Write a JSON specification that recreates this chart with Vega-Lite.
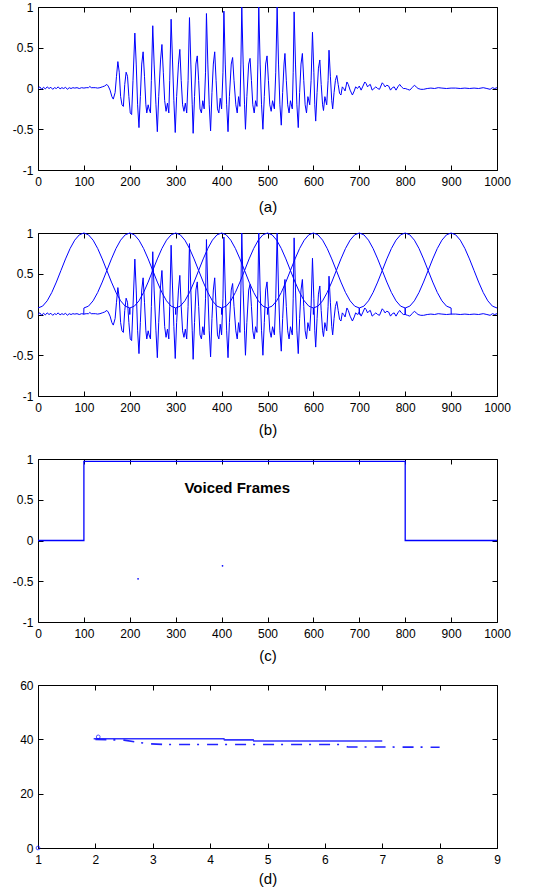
{
  "$schema": "https://vega.github.io/schema/vega-lite/v6.json",
  "background": "white",
  "padding": {"left": 11, "top": 0, "right": 10, "bottom": 2},
  "spacing": 63,
  "bounds": "flush",
  "config": {
    "view": {"stroke": "black", "strokeWidth": 1},
    "axis": {"grid": false, "domain": false, "tickSize": -5, "tickColor": "black", "labelFont": "Liberation Sans", "labelFontSize": 12, "labelColor": "black", "titleFont": "Liberation Sans", "titleFontSize": 15, "titleFontWeight": "normal", "titleColor": "black", "labelFlush": false, "labelOverlap": false}
  },
  "datasets": {
    "wave": [
      {"x":0,"y":0.0},{"x":4,"y":0.02},{"x":8,"y":-0.01},{"x":12,"y":0.015},{"x":16,"y":-0.005},{"x":20,"y":0.02},{"x":24,"y":0.0},{"x":28,"y":0.015},{"x":32,"y":-0.01},{"x":36,"y":0.01},{"x":40,"y":0.0},{"x":44,"y":0.02},{"x":48,"y":-0.005},{"x":52,"y":0.01},{"x":56,"y":0.0},{"x":60,"y":0.015},{"x":64,"y":-0.01},{"x":68,"y":0.01},{"x":72,"y":0.0},{"x":76,"y":0.01},{"x":80,"y":0.005},{"x":85,"y":0.01},{"x":90,"y":0.0},{"x":95,"y":0.01},{"x":100,"y":0.005},{"x":105,"y":0.01},{"x":110,"y":0.01},{"x":113,"y":0.025},{"x":116,"y":0.01},{"x":120,"y":0.01},{"x":125,"y":0.01},{"x":130,"y":0.005},{"x":135,"y":0.01},{"x":140,"y":0.02},{"x":145,"y":0.03},{"x":150,"y":0.05},{"x":153,"y":0.03},{"x":157,"y":-0.02},{"x":161,"y":-0.1},{"x":164,"y":-0.13},{"x":168,"y":-0.05},{"x":171,"y":0.15},{"x":174,"y":0.33},{"x":177,"y":0.2},{"x":180,"y":-0.1},{"x":183,"y":-0.2},{"x":186,"y":-0.22},{"x":189,"y":0.05},{"x":192,"y":0.2},{"x":195,"y":0.15},{"x":198,"y":-0.1},{"x":201,"y":-0.3},{"x":204,"y":-0.32},{"x":207,"y":0.1},{"x":211,"y":0.68},{"x":214,"y":0.3},{"x":217,"y":-0.2},{"x":220,"y":-0.48},{"x":223,"y":-0.1},{"x":226,"y":0.3},{"x":229,"y":0.45},{"x":232,"y":0.15},{"x":235,"y":-0.2},{"x":237,"y":-0.3},{"x":240,"y":-0.2},{"x":242,"y":-0.25},{"x":245,"y":-0.3},{"x":247,"y":0.1},{"x":250,"y":0.77},{"x":253,"y":0.3},{"x":257,"y":-0.2},{"x":260,"y":-0.53},{"x":263,"y":-0.1},{"x":267,"y":0.35},{"x":270,"y":0.54},{"x":273,"y":0.2},{"x":276,"y":-0.15},{"x":279,"y":-0.28},{"x":282,"y":-0.18},{"x":285,"y":-0.3},{"x":287,"y":0.1},{"x":290,"y":0.85},{"x":293,"y":0.35},{"x":296,"y":-0.15},{"x":299,"y":-0.54},{"x":302,"y":-0.1},{"x":306,"y":0.3},{"x":309,"y":0.48},{"x":312,"y":0.1},{"x":315,"y":-0.2},{"x":318,"y":-0.28},{"x":321,"y":-0.18},{"x":324,"y":-0.3},{"x":327,"y":0.1},{"x":330,"y":0.87},{"x":333,"y":0.3},{"x":336,"y":-0.2},{"x":338,"y":-0.55},{"x":341,"y":-0.1},{"x":344,"y":0.3},{"x":347,"y":0.4},{"x":350,"y":0.1},{"x":353,"y":-0.25},{"x":356,"y":-0.3},{"x":359,"y":-0.15},{"x":362,"y":-0.25},{"x":365,"y":0.2},{"x":367,"y":0.92},{"x":370,"y":0.3},{"x":373,"y":-0.2},{"x":376,"y":-0.52},{"x":379,"y":-0.05},{"x":382,"y":0.3},{"x":385,"y":0.45},{"x":388,"y":0.1},{"x":391,"y":-0.25},{"x":394,"y":-0.3},{"x":397,"y":-0.12},{"x":400,"y":-0.25},{"x":403,"y":0.2},{"x":405,"y":0.95},{"x":408,"y":0.3},{"x":411,"y":-0.2},{"x":414,"y":-0.53},{"x":417,"y":-0.1},{"x":421,"y":0.3},{"x":424,"y":0.38},{"x":427,"y":0.1},{"x":431,"y":-0.2},{"x":434,"y":-0.3},{"x":437,"y":-0.1},{"x":440,"y":-0.22},{"x":442,"y":0.3},{"x":444,"y":1.0},{"x":447,"y":0.3},{"x":450,"y":-0.2},{"x":452,"y":-0.5},{"x":455,"y":-0.1},{"x":459,"y":0.3},{"x":462,"y":0.37},{"x":465,"y":0.1},{"x":468,"y":-0.2},{"x":471,"y":-0.3},{"x":474,"y":-0.15},{"x":477,"y":-0.22},{"x":479,"y":0.3},{"x":481,"y":1.0},{"x":484,"y":0.3},{"x":487,"y":-0.2},{"x":490,"y":-0.5},{"x":493,"y":-0.1},{"x":496,"y":0.3},{"x":499,"y":0.4},{"x":502,"y":0.1},{"x":505,"y":-0.2},{"x":508,"y":-0.28},{"x":511,"y":-0.15},{"x":515,"y":-0.25},{"x":518,"y":0.2},{"x":521,"y":1.0},{"x":524,"y":0.3},{"x":527,"y":-0.2},{"x":530,"y":-0.45},{"x":533,"y":-0.05},{"x":536,"y":0.3},{"x":538,"y":0.43},{"x":541,"y":0.1},{"x":544,"y":-0.2},{"x":547,"y":-0.3},{"x":550,"y":-0.15},{"x":554,"y":-0.25},{"x":556,"y":0.2},{"x":558,"y":0.94},{"x":561,"y":0.3},{"x":564,"y":-0.2},{"x":567,"y":-0.48},{"x":570,"y":-0.05},{"x":573,"y":0.3},{"x":576,"y":0.43},{"x":579,"y":0.1},{"x":582,"y":-0.2},{"x":585,"y":-0.3},{"x":588,"y":-0.1},{"x":592,"y":-0.2},{"x":595,"y":0.1},{"x":598,"y":0.69},{"x":601,"y":0.2},{"x":603,"y":-0.2},{"x":605,"y":-0.4},{"x":608,"y":-0.05},{"x":611,"y":0.25},{"x":614,"y":0.35},{"x":617,"y":0.05},{"x":620,"y":-0.2},{"x":622,"y":-0.27},{"x":625,"y":-0.1},{"x":629,"y":-0.2},{"x":632,"y":0.1},{"x":634,"y":0.47},{"x":637,"y":0.15},{"x":640,"y":-0.15},{"x":642,"y":-0.25},{"x":645,"y":-0.05},{"x":648,"y":0.1},{"x":651,"y":0.16},{"x":654,"y":0.05},{"x":657,"y":-0.06},{"x":660,"y":-0.08},{"x":663,"y":0.02},{"x":666,"y":0.0},{"x":669,"y":-0.03},{"x":673,"y":0.08},{"x":676,"y":0.05},{"x":680,"y":-0.02},{"x":685,"y":-0.08},{"x":689,"y":-0.03},{"x":692,"y":0.02},{"x":696,"y":0.0},{"x":700,"y":0.03},{"x":704,"y":-0.02},{"x":708,"y":0.03},{"x":712,"y":0.08},{"x":715,"y":0.06},{"x":718,"y":0.02},{"x":721,"y":0.04},{"x":724,"y":0.05},{"x":728,"y":-0.02},{"x":732,"y":0.0},{"x":736,"y":0.02},{"x":740,"y":0.0},{"x":744,"y":-0.01},{"x":750,"y":0.07},{"x":753,"y":0.05},{"x":756,"y":0.02},{"x":760,"y":0.04},{"x":764,"y":0.03},{"x":768,"y":-0.02},{"x":772,"y":0.01},{"x":776,"y":0.02},{"x":780,"y":-0.02},{"x":784,"y":0.02},{"x":788,"y":0.05},{"x":792,"y":0.02},{"x":796,"y":0.0},{"x":800,"y":0.0},{"x":805,"y":-0.01},{"x":810,"y":-0.02},{"x":815,"y":0.01},{"x":820,"y":0.04},{"x":824,"y":0.02},{"x":828,"y":0.0},{"x":834,"y":-0.01},{"x":840,"y":-0.01},{"x":848,"y":0.0},{"x":856,"y":0.005},{"x":864,"y":0.0},{"x":872,"y":0.01},{"x":880,"y":0.005},{"x":890,"y":0.0},{"x":900,"y":0.005},{"x":910,"y":0.005},{"x":920,"y":0.0},{"x":930,"y":0.005},{"x":940,"y":0.0},{"x":950,"y":0.005},{"x":960,"y":0.0},{"x":970,"y":0.01},{"x":978,"y":0.0},{"x":985,"y":-0.01},{"x":990,"y":0.01},{"x":995,"y":0.0},{"x":1000,"y":0.01}
    ],
    "win": [
      {"w":1,"x":0,"y":0.08},{"w":1,"x":10,"y":0.1025},{"w":1,"x":20,"y":0.1678},{"w":1,"x":30,"y":0.2696},{"w":1,"x":40,"y":0.3979},{"w":1,"x":50,"y":0.54},{"w":1,"x":60,"y":0.6821},{"w":1,"x":70,"y":0.8104},{"w":1,"x":80,"y":0.9122},{"w":1,"x":90,"y":0.9775},{"w":1,"x":100,"y":1},{"w":1,"x":110,"y":0.9775},{"w":1,"x":120,"y":0.9122},{"w":1,"x":130,"y":0.8104},{"w":1,"x":140,"y":0.6821},{"w":1,"x":150,"y":0.54},{"w":1,"x":160,"y":0.3979},{"w":1,"x":170,"y":0.2696},{"w":1,"x":180,"y":0.1678},{"w":1,"x":190,"y":0.1025},{"w":1,"x":200,"y":0.08},{"w":1,"x":200.3,"y":0},
      {"w":2,"x":99.7,"y":0},{"w":2,"x":100,"y":0.08},{"w":2,"x":110,"y":0.1025},{"w":2,"x":120,"y":0.1678},{"w":2,"x":130,"y":0.2696},{"w":2,"x":140,"y":0.3979},{"w":2,"x":150,"y":0.54},{"w":2,"x":160,"y":0.6821},{"w":2,"x":170,"y":0.8104},{"w":2,"x":180,"y":0.9122},{"w":2,"x":190,"y":0.9775},{"w":2,"x":200,"y":1},{"w":2,"x":210,"y":0.9775},{"w":2,"x":220,"y":0.9122},{"w":2,"x":230,"y":0.8104},{"w":2,"x":240,"y":0.6821},{"w":2,"x":250,"y":0.54},{"w":2,"x":260,"y":0.3979},{"w":2,"x":270,"y":0.2696},{"w":2,"x":280,"y":0.1678},{"w":2,"x":290,"y":0.1025},{"w":2,"x":300,"y":0.08},{"w":2,"x":300.3,"y":0},
      {"w":3,"x":199.7,"y":0},{"w":3,"x":200,"y":0.08},{"w":3,"x":210,"y":0.1025},{"w":3,"x":220,"y":0.1678},{"w":3,"x":230,"y":0.2696},{"w":3,"x":240,"y":0.3979},{"w":3,"x":250,"y":0.54},{"w":3,"x":260,"y":0.6821},{"w":3,"x":270,"y":0.8104},{"w":3,"x":280,"y":0.9122},{"w":3,"x":290,"y":0.9775},{"w":3,"x":300,"y":1},{"w":3,"x":310,"y":0.9775},{"w":3,"x":320,"y":0.9122},{"w":3,"x":330,"y":0.8104},{"w":3,"x":340,"y":0.6821},{"w":3,"x":350,"y":0.54},{"w":3,"x":360,"y":0.3979},{"w":3,"x":370,"y":0.2696},{"w":3,"x":380,"y":0.1678},{"w":3,"x":390,"y":0.1025},{"w":3,"x":400,"y":0.08},{"w":3,"x":400.3,"y":0},
      {"w":4,"x":299.7,"y":0},{"w":4,"x":300,"y":0.08},{"w":4,"x":310,"y":0.1025},{"w":4,"x":320,"y":0.1678},{"w":4,"x":330,"y":0.2696},{"w":4,"x":340,"y":0.3979},{"w":4,"x":350,"y":0.54},{"w":4,"x":360,"y":0.6821},{"w":4,"x":370,"y":0.8104},{"w":4,"x":380,"y":0.9122},{"w":4,"x":390,"y":0.9775},{"w":4,"x":400,"y":1},{"w":4,"x":410,"y":0.9775},{"w":4,"x":420,"y":0.9122},{"w":4,"x":430,"y":0.8104},{"w":4,"x":440,"y":0.6821},{"w":4,"x":450,"y":0.54},{"w":4,"x":460,"y":0.3979},{"w":4,"x":470,"y":0.2696},{"w":4,"x":480,"y":0.1678},{"w":4,"x":490,"y":0.1025},{"w":4,"x":500,"y":0.08},{"w":4,"x":500.3,"y":0},
      {"w":5,"x":399.7,"y":0},{"w":5,"x":400,"y":0.08},{"w":5,"x":410,"y":0.1025},{"w":5,"x":420,"y":0.1678},{"w":5,"x":430,"y":0.2696},{"w":5,"x":440,"y":0.3979},{"w":5,"x":450,"y":0.54},{"w":5,"x":460,"y":0.6821},{"w":5,"x":470,"y":0.8104},{"w":5,"x":480,"y":0.9122},{"w":5,"x":490,"y":0.9775},{"w":5,"x":500,"y":1},{"w":5,"x":510,"y":0.9775},{"w":5,"x":520,"y":0.9122},{"w":5,"x":530,"y":0.8104},{"w":5,"x":540,"y":0.6821},{"w":5,"x":550,"y":0.54},{"w":5,"x":560,"y":0.3979},{"w":5,"x":570,"y":0.2696},{"w":5,"x":580,"y":0.1678},{"w":5,"x":590,"y":0.1025},{"w":5,"x":600,"y":0.08},{"w":5,"x":600.3,"y":0},
      {"w":6,"x":499.7,"y":0},{"w":6,"x":500,"y":0.08},{"w":6,"x":510,"y":0.1025},{"w":6,"x":520,"y":0.1678},{"w":6,"x":530,"y":0.2696},{"w":6,"x":540,"y":0.3979},{"w":6,"x":550,"y":0.54},{"w":6,"x":560,"y":0.6821},{"w":6,"x":570,"y":0.8104},{"w":6,"x":580,"y":0.9122},{"w":6,"x":590,"y":0.9775},{"w":6,"x":600,"y":1},{"w":6,"x":610,"y":0.9775},{"w":6,"x":620,"y":0.9122},{"w":6,"x":630,"y":0.8104},{"w":6,"x":640,"y":0.6821},{"w":6,"x":650,"y":0.54},{"w":6,"x":660,"y":0.3979},{"w":6,"x":670,"y":0.2696},{"w":6,"x":680,"y":0.1678},{"w":6,"x":690,"y":0.1025},{"w":6,"x":700,"y":0.08},{"w":6,"x":700.3,"y":0},
      {"w":7,"x":599.7,"y":0},{"w":7,"x":600,"y":0.08},{"w":7,"x":610,"y":0.1025},{"w":7,"x":620,"y":0.1678},{"w":7,"x":630,"y":0.2696},{"w":7,"x":640,"y":0.3979},{"w":7,"x":650,"y":0.54},{"w":7,"x":660,"y":0.6821},{"w":7,"x":670,"y":0.8104},{"w":7,"x":680,"y":0.9122},{"w":7,"x":690,"y":0.9775},{"w":7,"x":700,"y":1},{"w":7,"x":710,"y":0.9775},{"w":7,"x":720,"y":0.9122},{"w":7,"x":730,"y":0.8104},{"w":7,"x":740,"y":0.6821},{"w":7,"x":750,"y":0.54},{"w":7,"x":760,"y":0.3979},{"w":7,"x":770,"y":0.2696},{"w":7,"x":780,"y":0.1678},{"w":7,"x":790,"y":0.1025},{"w":7,"x":800,"y":0.08},{"w":7,"x":800.3,"y":0},
      {"w":8,"x":699.7,"y":0},{"w":8,"x":700,"y":0.08},{"w":8,"x":710,"y":0.1025},{"w":8,"x":720,"y":0.1678},{"w":8,"x":730,"y":0.2696},{"w":8,"x":740,"y":0.3979},{"w":8,"x":750,"y":0.54},{"w":8,"x":760,"y":0.6821},{"w":8,"x":770,"y":0.8104},{"w":8,"x":780,"y":0.9122},{"w":8,"x":790,"y":0.9775},{"w":8,"x":800,"y":1},{"w":8,"x":810,"y":0.9775},{"w":8,"x":820,"y":0.9122},{"w":8,"x":830,"y":0.8104},{"w":8,"x":840,"y":0.6821},{"w":8,"x":850,"y":0.54},{"w":8,"x":860,"y":0.3979},{"w":8,"x":870,"y":0.2696},{"w":8,"x":880,"y":0.1678},{"w":8,"x":890,"y":0.1025},{"w":8,"x":900,"y":0.08},{"w":8,"x":900.3,"y":0},
      {"w":9,"x":799.7,"y":0},{"w":9,"x":800,"y":0.08},{"w":9,"x":810,"y":0.1025},{"w":9,"x":820,"y":0.1678},{"w":9,"x":830,"y":0.2696},{"w":9,"x":840,"y":0.3979},{"w":9,"x":850,"y":0.54},{"w":9,"x":860,"y":0.6821},{"w":9,"x":870,"y":0.8104},{"w":9,"x":880,"y":0.9122},{"w":9,"x":890,"y":0.9775},{"w":9,"x":900,"y":1},{"w":9,"x":910,"y":0.9775},{"w":9,"x":920,"y":0.9122},{"w":9,"x":930,"y":0.8104},{"w":9,"x":940,"y":0.6821},{"w":9,"x":950,"y":0.54},{"w":9,"x":960,"y":0.3979},{"w":9,"x":970,"y":0.2696},{"w":9,"x":980,"y":0.1678},{"w":9,"x":990,"y":0.1025},{"w":9,"x":1000,"y":0.08}
    ],
    "step": [
      {"i":1,"x":0,"y":0},{"i":2,"x":100,"y":0},{"i":3,"x":100,"y":0.97},{"i":4,"x":800,"y":0.97},{"i":5,"x":800,"y":0},{"i":6,"x":1000,"y":0}
    ],
    "dots": [{"x":218,"y":-0.47},{"x":402,"y":-0.31}],
    "label": [{"x":434,"y":0.65,"t":"Voiced Frames"}],
    "dsolid": [
      {"x":1.97,"y":40.2},{"x":4.24,"y":40.2},{"x":4.25,"y":39.8},{"x":4.75,"y":39.8},{"x":4.76,"y":39.4},{"x":7,"y":39.4}
    ],
    "ddash": [
      {"x":2.0,"y":40.0},{"x":2.5,"y":39.7},{"x":2.9,"y":38.4},{"x":3.2,"y":38.1},{"x":6.3,"y":38.1},{"x":6.4,"y":37.2},{"x":8,"y":37.1}
    ],
    "dmark": [{"x":2.05,"y":40.9},{"x":1,"y":0}]
  },
  "vconcat": [
    {
      "width": 459, "height": 163,
      "layer": [
        {
          "data": {"name": "wave"},
          "mark": {"type": "line", "color": "#0000ff", "strokeWidth": 1},
          "encoding": {
            "x": {"field": "x", "type": "quantitative", "scale": {"domain": [0, 1000], "nice": false}, "axis": {"values": [0,100,200,300,400,500,600,700,800,900,1000], "labelExpr": "toString(datum.value)", "title": "(a)", "labelPadding": 11, "titlePadding": 12}},
            "y": {"field": "y", "type": "quantitative", "scale": {"domain": [-1, 1], "nice": false}, "axis": {"values": [-1,-0.5,0,0.5,1], "labelExpr": "toString(datum.value)", "title": null, "labelPadding": 10}}
          }
        },
        {
          "data": {"name": "step"},
          "mark": {"type": "point", "opacity": 0},
          "encoding": {
            "x": {"field": "x", "type": "quantitative", "axis": {"orient": "top", "values": [0,100,200,300,400,500,600,700,800,900,1000], "labels": false, "title": null}},
            "y": {"field": "y", "type": "quantitative", "axis": {"orient": "right", "values": [-1,-0.5,0,0.5,1], "labels": false, "title": null}}
          }
        }
      ],
      "resolve": {"axis": {"x": "independent", "y": "independent"}}
    },
    {
      "width": 459, "height": 163,
      "layer": [
        {
          "data": {"name": "win"},
          "mark": {"type": "line", "color": "#0000ff", "strokeWidth": 1},
          "encoding": {
            "x": {"field": "x", "type": "quantitative", "scale": {"domain": [0, 1000], "nice": false}, "axis": {"values": [0,100,200,300,400,500,600,700,800,900,1000], "labelExpr": "toString(datum.value)", "title": "(b)", "labelPadding": 11, "titlePadding": 9}},
            "y": {"field": "y", "type": "quantitative", "scale": {"domain": [-1, 1], "nice": false}, "axis": {"values": [-1,-0.5,0,0.5,1], "labelExpr": "toString(datum.value)", "title": null, "labelPadding": 10}},
            "detail": {"field": "w", "type": "nominal"}
          }
        },
        {
          "data": {"name": "wave"},
          "mark": {"type": "line", "color": "#0000ff", "strokeWidth": 1},
          "encoding": {
            "x": {"field": "x", "type": "quantitative", "axis": null},
            "y": {"field": "y", "type": "quantitative", "axis": null}
          }
        },
        {
          "data": {"name": "step"},
          "mark": {"type": "point", "opacity": 0},
          "encoding": {
            "x": {"field": "x", "type": "quantitative", "axis": {"orient": "top", "values": [0,100,200,300,400,500,600,700,800,900,1000], "labels": false, "title": null}},
            "y": {"field": "y", "type": "quantitative", "axis": {"orient": "right", "values": [-1,-0.5,0,0.5,1], "labels": false, "title": null}}
          }
        }
      ],
      "resolve": {"axis": {"x": "independent", "y": "independent"}}
    },
    {
      "width": 459, "height": 163,
      "layer": [
        {
          "data": {"name": "step"},
          "mark": {"type": "line", "color": "#0000ff", "strokeWidth": 1.3},
          "encoding": {
            "x": {"field": "x", "type": "quantitative", "scale": {"domain": [0, 1000], "nice": false}, "axis": {"values": [0,100,200,300,400,500,600,700,800,900,1000], "labelExpr": "toString(datum.value)", "title": "(c)", "labelPadding": 11, "titlePadding": 9}},
            "y": {"field": "y", "type": "quantitative", "scale": {"domain": [-1, 1], "nice": false}, "axis": {"values": [-1,-0.5,0,0.5,1], "labelExpr": "toString(datum.value)", "title": null, "labelPadding": 10}},
            "order": {"field": "i", "type": "quantitative"}
          }
        },
        {
          "data": {"name": "dots"},
          "mark": {"type": "point", "filled": true, "size": 3, "color": "#0000ff", "opacity": 1},
          "encoding": {
            "x": {"field": "x", "type": "quantitative", "axis": null},
            "y": {"field": "y", "type": "quantitative", "axis": null}
          }
        },
        {
          "data": {"name": "label"},
          "mark": {"type": "text", "font": "Liberation Sans", "fontSize": 15, "fontWeight": "bold", "color": "black", "align": "center", "baseline": "middle"},
          "encoding": {
            "x": {"field": "x", "type": "quantitative", "axis": null},
            "y": {"field": "y", "type": "quantitative", "axis": null},
            "text": {"field": "t", "type": "nominal"}
          }
        },
        {
          "data": {"name": "step"},
          "mark": {"type": "point", "opacity": 0},
          "encoding": {
            "x": {"field": "x", "type": "quantitative", "axis": {"orient": "top", "values": [0,100,200,300,400,500,600,700,800,900,1000], "labels": false, "title": null}},
            "y": {"field": "y", "type": "quantitative", "axis": {"orient": "right", "values": [-1,-0.5,0,0.5,1], "labels": false, "title": null}}
          }
        }
      ],
      "resolve": {"axis": {"x": "independent", "y": "independent"}}
    },
    {
      "width": 459, "height": 163,
      "layer": [
        {
          "data": {"name": "dsolid"},
          "mark": {"type": "line", "color": "#3333ff", "strokeWidth": 1.6},
          "encoding": {
            "x": {"field": "x", "type": "quantitative", "scale": {"domain": [1, 9], "nice": false}, "axis": {"values": [1,2,3,4,5,6,7,8,9], "title": "(d)", "labelPadding": 11, "titlePadding": 6}},
            "y": {"field": "y", "type": "quantitative", "scale": {"domain": [0, 60], "nice": false}, "axis": {"values": [0,20,40,60], "title": null, "labelPadding": 10}}
          }
        },
        {
          "data": {"name": "ddash"},
          "mark": {"type": "line", "color": "#2222ff", "strokeWidth": 1.6, "strokeDash": [11, 7, 2, 8]},
          "encoding": {
            "x": {"field": "x", "type": "quantitative", "axis": null},
            "y": {"field": "y", "type": "quantitative", "axis": null}
          }
        },
        {
          "data": {"name": "dmark"},
          "mark": {"type": "point", "shape": "circle", "filled": false, "size": 14, "color": "#0000ff", "strokeWidth": 1},
          "encoding": {
            "x": {"field": "x", "type": "quantitative", "axis": null},
            "y": {"field": "y", "type": "quantitative", "axis": null}
          }
        },
        {
          "data": {"name": "dsolid"},
          "mark": {"type": "point", "opacity": 0},
          "encoding": {
            "x": {"field": "x", "type": "quantitative", "axis": {"orient": "top", "values": [1,2,3,4,5,6,7,8,9], "labels": false, "title": null}},
            "y": {"field": "y", "type": "quantitative", "axis": {"orient": "right", "values": [0,20,40,60], "labels": false, "title": null}}
          }
        }
      ],
      "resolve": {"axis": {"x": "independent", "y": "independent"}}
    }
  ]
}
